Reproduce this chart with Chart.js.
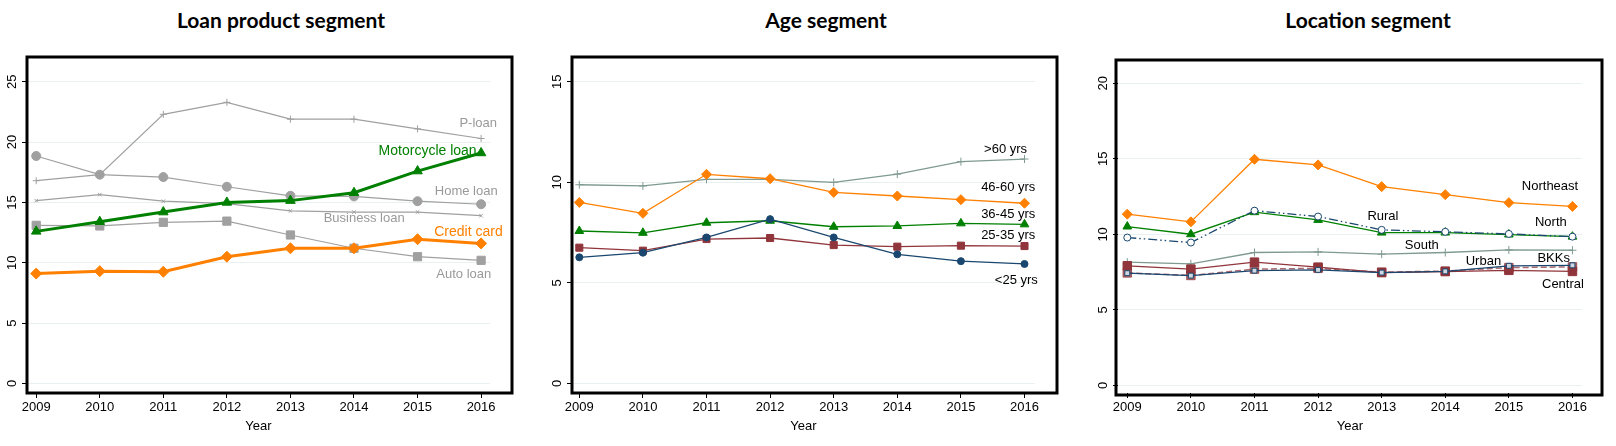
<!DOCTYPE html>
<html>
<head>
<meta charset="utf-8">
<script src="https://cdn.jsdelivr.net/npm/chart.js@4.4.1/dist/chart.umd.min.js"></script>
<style>
body{margin:0;background:#fff;width:1616px;height:446px;overflow:hidden;position:relative;font-family:"Liberation Sans",Arial,sans-serif}
.box{position:absolute;top:0;height:446px}
.ttl{position:absolute;top:7px;font:bold 21px Lato,"Open Sans",sans-serif;transform:translateX(-50%);white-space:nowrap;color:#000}
</style>
</head>
<body>
<div class="ttl" style="left:281px">Loan product segment</div>
<div class="ttl" style="left:826px">Age segment</div>
<div class="ttl" style="left:1368px">Location segment</div>
<div class="box" style="left:0;width:540px"><canvas id="loanChart"></canvas></div>
<div class="box" style="left:540px;width:540px"><canvas id="ageChart"></canvas></div>
<div class="box" style="left:1080px;width:536px"><canvas id="locChart"></canvas></div>
<script>
const years = [2009,2010,2011,2012,2013,2014,2015,2016];

// loan product segment
const pLoan          = [16.8,17.3,22.3,23.3,21.9,21.9,21.1,20.3];
const homeLoan       = [18.85,17.3,17.1,16.3,15.55,15.5,15.1,14.85];
const businessLoan   = [15.15,15.65,15.1,14.9,14.3,14.2,14.2,13.9];
const autoLoan       = [13.1,13.05,13.35,13.45,12.3,11.2,10.5,10.2];
const motorcycleLoan = [12.6,13.4,14.2,15.0,15.15,15.8,17.6,19.1];
const creditCard     = [9.1,9.3,9.25,10.5,11.2,11.2,11.95,11.6];
const loanTicks = [0,5,10,15,20,25];

// age segment
const ageOver60  = [9.88,9.82,10.15,10.15,10.0,10.41,11.03,11.16];
const age46to60  = [9.0,8.46,10.4,10.18,9.5,9.32,9.14,8.96];
const age36to45  = [7.58,7.49,7.99,8.09,7.79,7.83,7.96,7.91];
const age25to35  = [6.75,6.6,7.18,7.23,6.88,6.8,6.85,6.83];
const ageUnder25 = [6.27,6.5,7.26,8.17,7.26,6.42,6.08,5.94];
const ageTicks = [0,5,10,15];

// location segment
const northeast = [11.34,10.83,14.97,14.6,13.16,12.63,12.1,11.85];
const north     = [10.52,10.01,11.47,10.96,10.12,10.12,9.99,9.85];
const rural     = [9.79,9.46,11.57,11.18,10.3,10.17,10.03,9.85];
const south     = [8.16,8.05,8.8,8.84,8.69,8.8,8.97,8.95];
const central   = [7.92,7.7,8.16,7.83,7.47,7.54,7.62,7.55];
const urban     = [7.45,7.28,7.7,7.75,7.5,7.57,7.8,7.85];
const bkks      = [7.43,7.27,7.6,7.65,7.47,7.55,7.92,7.95];
const locTicks = [0,5,10,15,20];

const GRAY = "#a0a0a0", GREEN = "#008000", ORANGE = "#ff8000";
const NAVY = "#1a476f", MAROON = "#90353b", TEAL = "#7f9a90";

function series(values, color, shape, radius, width, extra){
  return Object.assign({
    data: years.map((x,i) => ({x:x, y:values[i]})),
    borderColor: color,
    backgroundColor: color,
    borderWidth: width,
    pointStyle: shape,
    pointRadius: radius,
    pointBackgroundColor: color,
    pointBorderColor: color,
    pointBorderWidth: 1,
    tension: 0
  }, extra || {});
}

function makePanel(id, p){
  const extras = {
    id: "extras",
    afterDraw(chart){
      const ctx = chart.ctx, a = chart.chartArea, xs = chart.scales.x, ys = chart.scales.y;
      ctx.save();
      // rotated y tick labels
      ctx.font = '13px "Liberation Sans", Arial';
      ctx.fillStyle = "#000";
      ctx.textAlign = "center";
      ctx.textBaseline = "middle";
      p.yTicks.forEach(v => {
        ctx.save();
        ctx.translate(a.left - 15, ys.getPixelForValue(v));
        ctx.rotate(-Math.PI/2);
        ctx.fillText(String(v), 0, 0);
        ctx.restore();
      });
      // line labels
      p.notes.forEach(n => {
        ctx.font = (n.size || 13) + 'px "Liberation Sans", Arial';
        ctx.fillStyle = n.color || "#000";
        ctx.textAlign = n.align || "right";
        ctx.fillText(n.text, xs.getPixelForValue(n.x), ys.getPixelForValue(n.y));
      });
      // frame
      ctx.lineWidth = 3;
      ctx.strokeStyle = "#000";
      ctx.strokeRect(a.left - p.frame.l, a.top - p.frame.t, a.right - a.left + p.frame.l + p.frame.r, a.bottom - a.top + p.frame.t + p.frame.b);
      ctx.restore();
    }
  };

  return new Chart(document.getElementById(id), {
    type: "line",
    data: { datasets: p.datasets },
    options: {
      responsive: true,
      maintainAspectRatio: false,
      animation: false,
      layout: { padding: { left: 0, top: p.top, right: p.padRight, bottom: 0 } },
      plugins: { legend: { display: false }, tooltip: { enabled: false } },
      scales: {
        x: {
          type: "linear",
          min: p.xMin, max: p.xMax,
          afterBuildTicks: s => { s.ticks = years.map(v => ({value: v})); },
          afterFit: s => { s.height = 446 - p.bottom; },
          ticks: { callback: v => String(v), color: "#000", font: {family: "Liberation Sans", size: 13}, padding: 2, maxRotation: 0, autoSkip: false },
          grid: { color: "rgba(0,0,0,0)", tickColor: "#000", tickLength: 5 },
          border: { display: false },
          title: { display: true, text: "Year", color: "#000", font: {family: "Liberation Sans", size: 13}, padding: {top: 0, bottom: 12} }
        },
        y: {
          min: p.yMin, max: p.yMax,
          afterBuildTicks: s => { s.ticks = p.yTicks.map(v => ({value: v})); },
          afterFit: s => { s.width = p.yAxisW; },
          ticks: { display: false },
          grid: { color: "#e9f0f1", tickColor: "#000", tickLength: 5 },
          border: { display: false }
        }
      }
    },
    plugins: [extras]
  });
}

makePanel("loanChart", {
  top: 73, bottom: 393, yAxisW: 27, padRight: 50,
  xMin: 2008.855, xMax: 2016.14, yMin: -0.8, yMax: 25.73, yTicks: loanTicks,
  frame: {l: 0, t: 16, r: 22, b: 0},
  datasets: [
    series(motorcycleLoan, GREEN, "triangle", 5.5, 3),
    series(creditCard, ORANGE, "rectRot", 5.5, 3),
    series(pLoan, GRAY, "cross", 3.5, 1.2),
    series(homeLoan, GRAY, "circle", 4.5, 1.2),
    series(businessLoan, GRAY, "crossRot", 2.5, 1.2),
    series(autoLoan, GRAY, "rect", 5.8, 1.2)
  ],
  notes: [
    {text: "P-loan", x: 2016.25, y: 21.58, color: "#999"},
    {text: "Motorcycle loan", x: 2015.93, y: 19.29, color: GREEN, size: 14},
    {text: "Home loan", x: 2016.26, y: 15.89, color: "#999"},
    {text: "Business loan", x: 2014.16, y: 13.71, color: "#999", align: "center"},
    {text: "Credit card", x: 2016.34, y: 12.57, color: ORANGE, size: 14},
    {text: "Auto loan", x: 2016.16, y: 9.06, color: "#999"}
  ]
});

makePanel("ageChart", {
  top: 73, bottom: 393, yAxisW: 32, padRight: 45,
  xMin: 2008.885, xMax: 2016.165, yMin: -0.48, yMax: 15.44, yTicks: ageTicks,
  frame: {l: 0, t: 16, r: 22, b: 0},
  datasets: [
    series(ageUnder25, NAVY, "circle", 3.5, 1.3),
    series(age25to35, MAROON, "rect", 5, 1.3),
    series(age36to45, GREEN, "triangle", 5, 1.3),
    series(age46to60, ORANGE, "rectRot", 5, 1.3),
    series(ageOver60, TEAL, "cross", 4, 1.3)
  ],
  notes: [
    {text: ">60 yrs", x: 2016.04, y: 11.66},
    {text: "46-60 yrs", x: 2016.17, y: 9.75},
    {text: "36-45 yrs", x: 2016.17, y: 8.42},
    {text: "25-35 yrs", x: 2016.17, y: 7.34},
    {text: "<25 yrs", x: 2016.21, y: 5.14}
  ]
});

makePanel("locChart", {
  top: 75, bottom: 393, yAxisW: 38, padRight: 34,
  xMin: 2008.854, xMax: 2016.15, yMin: -0.5, yMax: 20.55, yTicks: locTicks,
  frame: {l: 2, t: 15, r: 20, b: 2},
  datasets: [
    series(rural, NAVY, "circle", 3.5, 1.3, {pointBackgroundColor: "#fff", borderDash: [9,3,1.5,3,1.5,3]}),
    series(north, GREEN, "triangle", 5, 1.3),
    series(northeast, ORANGE, "rectRot", 5, 1.3),
    series(bkks, NAVY, "rect", 3.5, 1.3, {pointBackgroundColor: "#cfd8e0"}),
    series(urban, "rgba(144,53,59,0.75)", "rect", 6, 1.5, {borderDash: [6,3]}),
    series(central, MAROON, "rect", 6, 1.3),
    series(south, TEAL, "cross", 4, 1.3)
  ],
  notes: [
    {text: "Northeast", x: 2016.09, y: 13.16},
    {text: "North", x: 2015.91, y: 10.76},
    {text: "Rural", x: 2013.02, y: 11.18, align: "center"},
    {text: "South", x: 2013.63, y: 9.26, align: "center"},
    {text: "Urban", x: 2014.6, y: 8.18, align: "center"},
    {text: "BKKs", x: 2015.96, y: 8.38},
    {text: "Central", x: 2016.18, y: 6.66}
  ]
});
</script>
</body>
</html>
